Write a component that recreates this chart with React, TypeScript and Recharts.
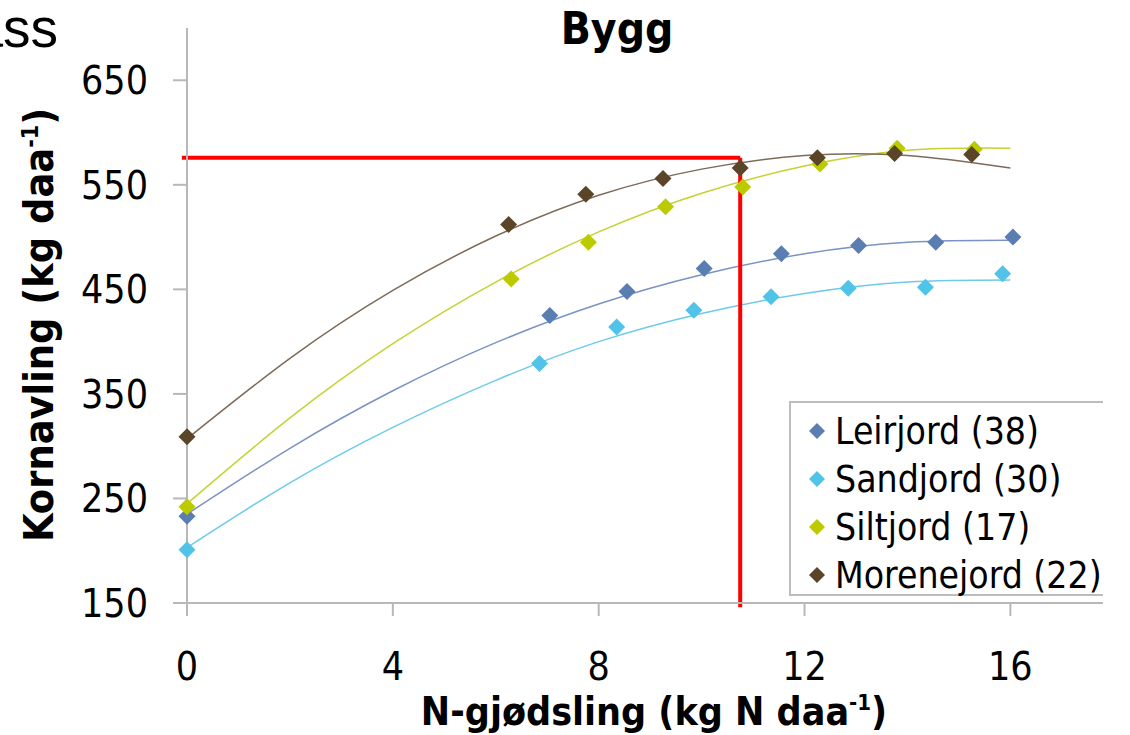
import React from "react";
import {
  ComposedChart,
  Line,
  Scatter,
  XAxis,
  YAxis,
  ReferenceLine,
  Legend,
  Label,
} from "recharts";

const FONT = '"DejaVu Sans Condensed", "DejaVu Sans", sans-serif';

// tick labels
const xTicks = [0, 4, 8, 12, 16];
const yTicks = [150, 250, 350, 450, 550, 650];

const leirjordX = [0, 7.05, 8.55, 10.05, 11.55, 13.05, 14.55, 16.05];
const leirjordY = [233, 425, 448, 470, 484, 492, 495, 500];
const sandjordX = [0, 6.85, 8.35, 9.85, 11.35, 12.85, 14.35, 15.85];
const sandjordY = [201, 379, 414, 430, 443, 451, 452, 465];
const siltjordX = [0, 6.3, 7.8, 9.3, 10.8, 12.3, 13.8, 15.3];
const siltjordY = [242, 460, 495, 529, 548, 570, 585, 584];
const morenejordX = [0, 6.25, 7.75, 9.25, 10.75, 12.25, 13.75, 15.25];
const morenejordY = [309, 512, 541, 556, 566, 576, 580, 579];

// trend curves
const trendX = [0, 2, 4, 6, 8, 10, 12, 14, 16];
const leirjordTrend = [235, 298, 353, 399, 436, 464, 484, 495, 497];
const sandjordTrend = [203, 265, 318, 363, 400, 427, 446, 457, 459];
const siltjordTrend = [245, 327, 398, 457, 505, 542, 568, 583, 585];
const morenejordTrend = [307, 384, 449, 501, 540, 565, 578, 578, 566];

// red guide lines
const guideX = 10.75;
const guideY = 576;

const series = [
  { name: "Leirjord (38)", color: "#5A7DB2", line: "#7A93C2", xs: leirjordX, ys: leirjordY, trend: leirjordTrend },
  { name: "Sandjord (30)", color: "#52C3E8", line: "#6CCBEA", xs: sandjordX, ys: sandjordY, trend: sandjordTrend },
  { name: "Siltjord (17)", color: "#BCCB00", line: "#C4D232", xs: siltjordX, ys: siltjordY, trend: siltjordTrend },
  { name: "Morenejord (22)", color: "#5B4528", line: "#7D6B58", xs: morenejordX, ys: morenejordY, trend: morenejordTrend },
];

const Diamond = (props: any) => {
  const { cx, cy, fill } = props;
  const r = 8.5;
  return <path d={`M${cx},${cy - r}L${cx + r},${cy}L${cx},${cy + r}L${cx - r},${cy}Z`} fill={fill} />;
};

const renderLegend = () => (
  <div
    style={{
      boxSizing: "border-box",
      width: 314,
      height: 195,
      border: "2px solid #BDBDBD",
      borderRight: "none",
      background: "#fff",
      paddingTop: 4,
      fontFamily: FONT,
      fontSize: 37,
      color: "#000",
    }}
  >
    {series.map((s) => (
      <div key={s.name} style={{ height: 48, display: "flex", alignItems: "center", whiteSpace: "nowrap" }}>
        <svg width={44} height={20}>
          <path d="M26,2L34,10L26,18L18,10Z" fill={s.color} />
        </svg>
        <span>{s.name}</span>
      </div>
    ))}
  </div>
);

const axisStroke = { stroke: "#B8B8B8", strokeWidth: 2 };

const App = () => {
  return (
    <div style={{ position: "absolute", left: 0, top: 0, width: 1130, height: 735, background: "#fff" }}>
      <div
        style={{
          position: "absolute",
          right: 1072,
          top: -1,
          fontFamily: '"Liberation Sans Narrow", "Liberation Sans", Arial, sans-serif',
          fontSize: 55,
          lineHeight: "58px",
          color: "#000",
          whiteSpace: "nowrap",
        }}
      >
        ass
      </div>
      <div
        style={{
          position: "absolute",
          left: 0,
          top: 0,
          width: 1234,
          textAlign: "center",
          fontFamily: FONT,
          fontWeight: "bold",
          fontSize: 44,
          lineHeight: "58px",
          color: "#000",
        }}
      >
        Bygg
      </div>
      <ComposedChart width={1130} height={735} margin={{ top: 28, right: 27, bottom: 0, left: 0 }}>
        <XAxis
          type="number"
          dataKey="x"
          domain={[0, 17.8]}
          ticks={xTicks}
          interval={0}
          height={132}
          tickSize={13}
          tickMargin={36}
          axisLine={axisStroke}
          tickLine={axisStroke}
          tick={{ fill: "#000", fontSize: 39, fontFamily: FONT }}
        >
          <Label
            content={() => (
              <text x={654} y={725} textAnchor="middle" fontFamily={FONT} fontWeight="bold" fontSize={39} fill="#000">
                N-gjødsling (kg N daa
                <tspan dy={-15} fontSize={22}>-1</tspan>
                <tspan dy={15}>)</tspan>
              </text>
            )}
          />
        </XAxis>
        <YAxis
          type="number"
          dataKey="y"
          domain={[150, 700]}
          ticks={yTicks}
          interval={0}
          width={187}
          tickSize={14}
          tickMargin={25}
          axisLine={axisStroke}
          tickLine={axisStroke}
          tick={{ fill: "#000", fontSize: 39, fontFamily: FONT }}
        >
          <Label
            content={() => (
              <text
                transform="rotate(-90)"
                x={-325}
                y={53}
                textAnchor="middle"
                fontFamily={FONT}
                fontWeight="bold"
                fontSize={41}
                fill="#000"
              >
                Kornavling (kg daa
                <tspan dy={-15} fontSize={23}>-1</tspan>
                <tspan dy={15}>)</tspan>
              </text>
            )}
          />
        </YAxis>
        {series.map((s) => (
          <Line
            key={s.name + "-trend"}
            data={trendX.map((x, i) => ({ x, y: s.trend[i] }))}
            dataKey="y"
            type="natural"
            stroke={s.line}
            strokeWidth={1.5}
            dot={false}
            activeDot={false}
            legendType="none"
            isAnimationActive={false}
          />
        ))}
        {series.map((s) => (
          <Scatter
            key={s.name}
            name={s.name}
            data={s.xs.map((x, i) => ({ x, y: s.ys[i] }))}
            fill={s.color}
            shape={<Diamond />}
            isAnimationActive={false}
          />
        ))}
        <ReferenceLine
          segment={[{ x: -0.1, y: guideY }, { x: guideX, y: guideY }]}
          stroke="#FF0000"
          strokeWidth={4}
          ifOverflow="visible"
        />
        <ReferenceLine
          segment={[{ x: guideX, y: guideY }, { x: guideX, y: 146 }]}
          stroke="#FF0000"
          strokeWidth={4}
          ifOverflow="visible"
        />
        <Legend
          layout="vertical"
          align="center"
          verticalAlign="middle"
          content={renderLegend}
          wrapperStyle={{ left: 789, top: 401, width: 314, height: 195 }}
        />
      </ComposedChart>
    </div>
  );
};

export default App;
